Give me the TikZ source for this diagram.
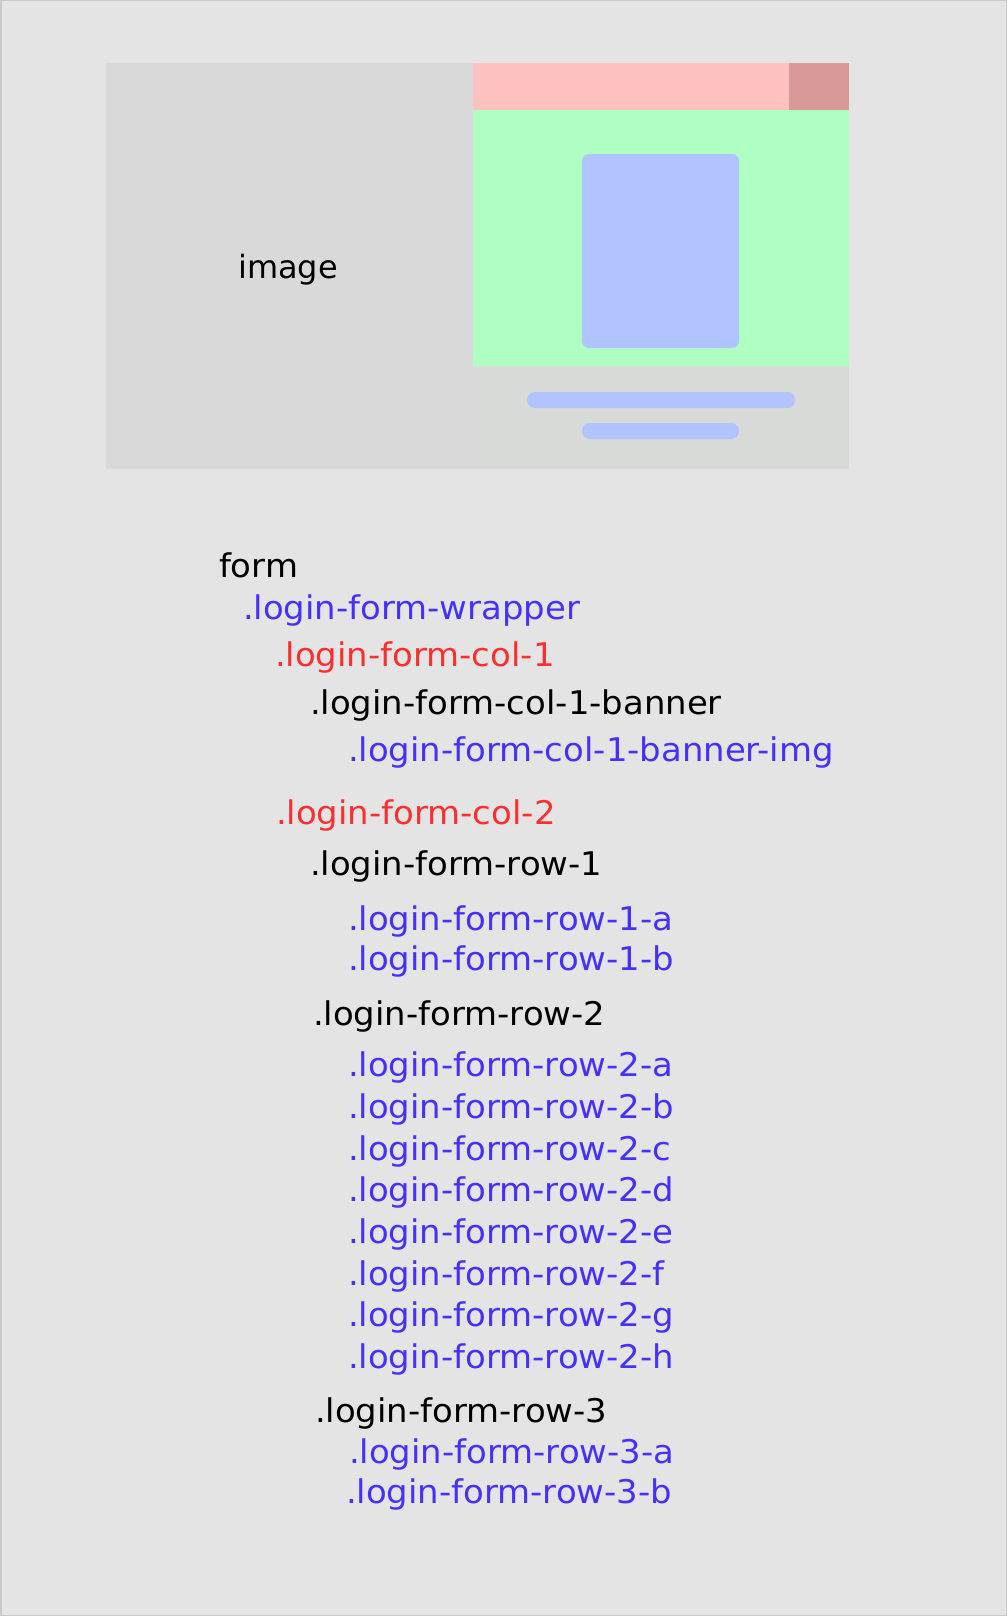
\documentclass[tikz,border=0pt]{standalone}
\usepackage{fontspec}
\setmainfont{DejaVu Sans}
\newfontfamily\listfont[FakeStretch=1.04]{DejaVu Sans}
\definecolor{pagebg}{HTML}{E4E4E4}
\definecolor{pageedge}{HTML}{C9C9C9}
\definecolor{imgbg}{HTML}{D9D9D9}
\definecolor{footbg}{HTML}{D8DAD7}
\definecolor{headpink}{HTML}{FFC0C0}
\definecolor{headdark}{HTML}{DA9999}
\definecolor{bodygreen}{HTML}{AFFFC2}
\definecolor{cardblue}{HTML}{B1C4FF}
\definecolor{clsblue}{HTML}{4530FF}
\definecolor{clsred}{HTML}{FF2E2E}
\tikzset{
  item/.style={anchor=base west, inner sep=0pt, outer sep=0pt,
    font=\listfont\fontsize{32.6}{39}\selectfont},
  plain/.style={item, text=black},
  wrapcls/.style={item, text=clsblue},
  colcls/.style={item, text=clsred},
  pill/.style={fill=cardblue, rounded corners=7.8pt},
}
\begin{document}
\begin{tikzpicture}[x=1pt, y=-1pt]
  % page
  \fill[pagebg] (0,0) rectangle (1007,1616);
  \draw[pageedge, line width=1.5pt] (0.75,0.75) rectangle (1006.25,1615.25);
  \useasboundingbox (0,0) rectangle (1007,1616);

  % mock-up: image column
  \fill[imgbg] (106,63) rectangle (473,469);
  \node[anchor=base, inner sep=0pt, font=\fontsize{32}{38}\selectfont] (imglabel) at (288,278) {image};

  % mock-up: form column
  \fill[headpink] (473,63) rectangle (849,110);
  \fill[headdark] (789,63) rectangle (849,110);
  \fill[bodygreen] (473,110) rectangle (849,366);
  \fill[cardblue, rounded corners=7pt] (582,154) rectangle (739,348);
  \fill[footbg] (473,366) rectangle (849,469);
  \fill[pill] (527,392) rectangle (795,408);
  \fill[pill] (582,423) rectangle (739,439);

  % class tree
  \node[plain]   (form)    at (219,577)   {form};
  \node[wrapcls] (wrapper) at (243,619)   {.login-form-wrapper};
  \node[colcls]  (colA)    at (275,666)   {.login-form-col-1};
  \node[plain]   (banner)  at (310,714)   {.login-form-col-1-banner};
  \node[wrapcls] (bannerimg) at (348,761) {.login-form-col-1-banner-img};
  \node[colcls]  (colB)    at (276,824)   {.login-form-col-2};
  \node[plain]   (rowA)    at (310,875)   {.login-form-row-1};
  \node[wrapcls] (rowAa)   at (348,930)   {.login-form-row-1-a};
  \node[wrapcls] (rowAb)   at (348,970.5) {.login-form-row-1-b};
  \node[plain]   (rowB)    at (313,1025)  {.login-form-row-2};
  \foreach \s [count=\k from 0] in {a,b,c,d,e,f,g,h}{
    \node[wrapcls] (rowB\s) at (348,1076.7+41.7*\k) {.login-form-row-2-\s};
  }
  \node[plain]   (rowC)    at (315,1422)  {.login-form-row-3};
  \node[wrapcls] (rowCa)   at (349,1463)  {.login-form-row-3-a};
  \node[wrapcls] (rowCb)   at (346,1503.5){.login-form-row-3-b};
\end{tikzpicture}
\end{document}
